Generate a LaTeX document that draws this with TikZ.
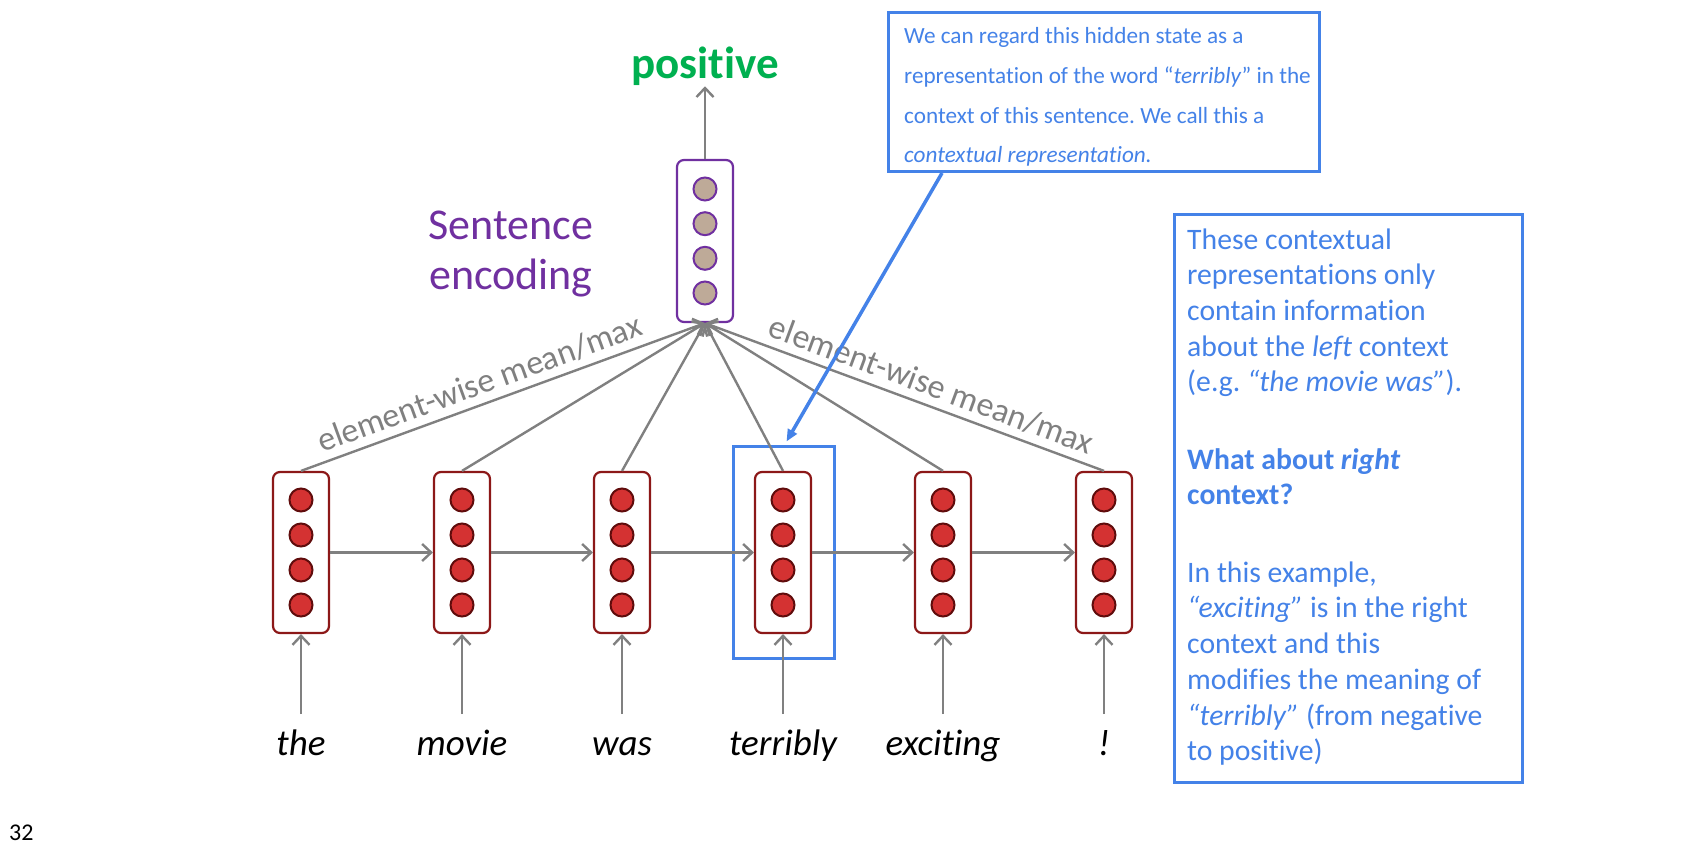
\documentclass[tikz,border=0pt]{standalone}
\usepackage{fontspec}
\setmainfont{Carlito}[Ligatures=NoCommon]
\usetikzlibrary{arrows.meta,calc}
\definecolor{cblue}{RGB}{68,130,232}
\definecolor{cgreen}{RGB}{0,176,80}
\definecolor{cpurple}{RGB}{112,48,160}
\definecolor{cgray}{RGB}{128,128,128}
\definecolor{boxred}{RGB}{140,24,24}
\definecolor{dotred}{RGB}{212,50,50}
\definecolor{dotedge}{RGB}{96,12,12}
\definecolor{dottan}{RGB}{190,170,152}
\newcommand{\myfs}[2]{\fontsize{#1}{#2}\selectfont}
\frenchspacing
\begin{document}
\begin{tikzpicture}[x=1pt,y=-1pt,
  vecbox/.style={draw=boxred, line width=2.2pt, rounded corners=7pt, minimum width=56pt, minimum height=161pt, inner sep=0pt, fill=white},
  topbox/.style={draw=cpurple, line width=2.2pt, rounded corners=7pt, minimum width=56pt, minimum height=162pt, inner sep=0pt, fill=white},
  reddot/.style={circle, draw=dotedge, fill=dotred, line width=2pt, minimum size=23pt, inner sep=0pt},
  tandot/.style={circle, draw=cpurple, fill=dottan, line width=2pt, minimum size=23pt, inner sep=0pt},
  garrow/.style={draw=cgray, line width=2.4pt, -{Straight Barb[length=9pt,width=17pt]}},
  garrowrev/.style={draw=cgray, line width=2.4pt, {Straight Barb[length=9pt,width=17pt]}-},
  wordlab/.style={font=\myfs{37}{44}\itshape, anchor=base, inner sep=0pt},
  mlabel/.style={font=\myfs{34}{41}, text=cgray, sloped, above, inner sep=7pt},
  bluebox/.style={draw=cblue, line width=3pt, inner sep=0pt},
]
\fill[white] (0,0) rectangle (1697,845);
\useasboundingbox (0,0) rectangle (1697,845);

% highlight around "terribly"
\node[bluebox, minimum width=101pt, minimum height=212pt] (hl) at (783.5,552) {};

% word vectors
\foreach \i/\x/\w in {1/301/the,2/462/movie,3/622/was,4/783/terribly,5/943/exciting,6/1104/!}{
  \node[vecbox] (b\i) at (\x,552.5) {};
  \foreach \j/\dy in {1/-52.5,2/-17.5,3/17.5,4/52.5}
    \node[reddot] (b\i d\j) at (\x,{552.5+(\dy)}) {};
  \node[wordlab] (w\i) at (\x,755) {\w};
  \coordinate (in\i) at (\x,714);
  \draw[garrow] (in\i) -- (b\i.south);
}
\foreach \i/\n in {1/2,2/3,3/4,4/5,5/6}
  \draw[garrow] (b\i.east) -- (b\n.west);

% sentence encoding
\node[topbox] (top) at (705,241) {};
\foreach \j/\dy in {1/-52,2/-17.3,3/17.3,4/52}
  \node[tandot] (t\j) at (705,{241+(\dy)}) {};
\node[font=\myfs{45}{54}\bfseries, text=cgreen, anchor=base, inner sep=0pt] (pos) at (705,79) {positive};
\draw[garrow] (top.north) -- (pos.south);
\node[font=\myfs{44}{49.8}, text=cpurple, anchor=base, inner sep=0pt] (senc) at (511,240)
  {\begin{tabular}[t]{@{}c@{}}Sentence\\encoding\end{tabular}};

\draw[garrow] (b1.north) -- node[mlabel, pos=0.46] {element-wise mean/max} (top.south);
\foreach \i in {2,...,5}
  \draw[garrow] (b\i.north) -- (top.south);
\draw[garrowrev] (top.south) -- node[mlabel, pos=0.55] {element-wise mean/max} (b6.north);

% callout
\node[bluebox, minimum width=431pt, minimum height=159pt, anchor=north west] (callout) at (887,11) {};
\node[font=\myfs{23.2}{39.6}, text=cblue, anchor=base west, inner sep=0pt] (ctext) at (904,44)
  {\begin{tabular}[t]{@{}l@{}}
   We can regard this hidden state as a\\
   representation of the word “\textit{terribly}” in the\\
   context of this sentence. We call this a\\
   \textit{contextual representation.}
   \end{tabular}};
\coordinate (cstart) at ($(callout.south west)+(55,0)$);
\coordinate (cend) at ($(hl.north)+(3,-3)$);
\draw[draw=cblue, line width=3.5pt, -{Triangle[length=12pt,width=10pt]}] (cstart) -- (cend);

% right box
\node[bluebox, minimum width=348pt, minimum height=568pt, anchor=north west] (rbox) at (1173,213) {};
\node[font=\myfs{29.7}{35.7}, text=cblue, anchor=base west, inner sep=0pt] (rtext) at (1187,249)
  {\begin{tabular}[t]{@{}l@{}}
   These contextual\\
   representations only\\
   contain information\\
   about the \textit{left} context\\
   (e.g. \textit{“the movie was”}).\\[41.7pt]
   \textbf{What about \textit{right}}\\
   \textbf{context?}\\[41.7pt]
   In this example,\\
   \textit{“exciting”} is in the right\\
   context and this\\
   modifies the meaning of\\
   \textit{“terribly”} (from negative\\
   to positive)
   \end{tabular}};

% page number
\node[font=\myfs{24}{29}, anchor=base west, inner sep=0pt] (pnum) at (9,840) {32};
\end{tikzpicture}
\end{document}
